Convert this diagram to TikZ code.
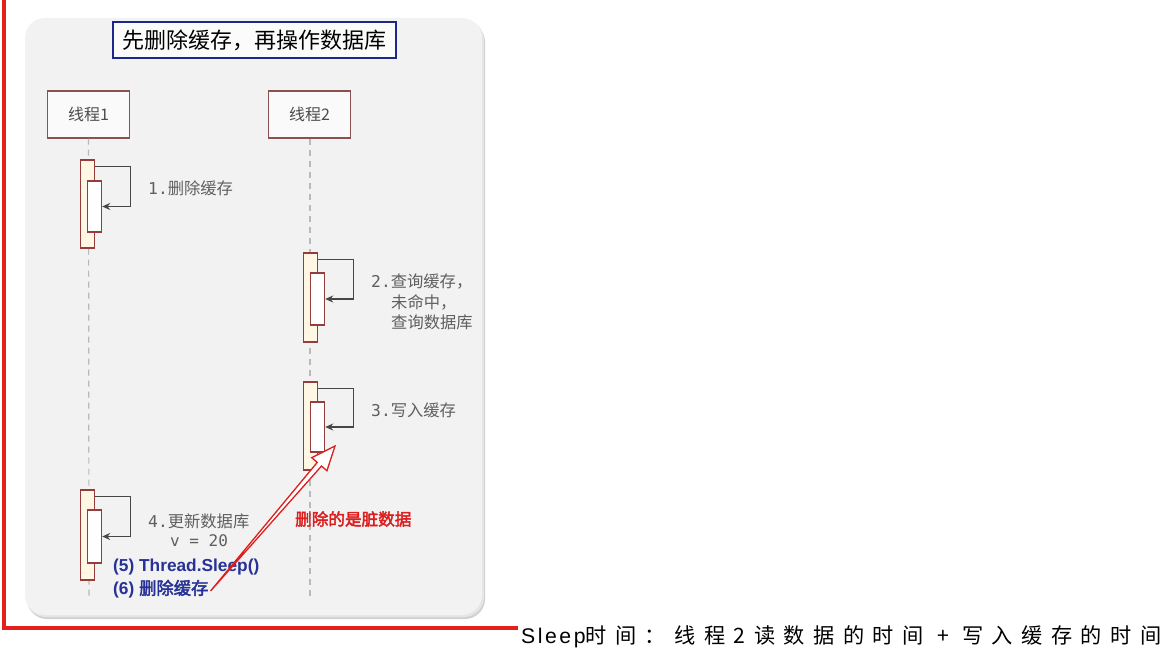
\documentclass[tikz,border=0pt]{standalone}
\usepackage{fontspec}
\setmainfont{Liberation Sans}
\newfontfamily\cjk{Noto Sans CJK SC}[AutoFakeBold=2.5]
\newfontfamily\cjkwide{Noto Sans CJK SC}[LetterSpace=40]
\newfontfamily\latinwide{Liberation Sans}[LetterSpace=12]
\newfontfamily\mono{DejaVu Sans Mono}
\usetikzlibrary{arrows.meta,calc}
\definecolor{framered}{RGB}{228,32,28}
\definecolor{panelbg}{RGB}{242,242,242}
\definecolor{titleblue}{RGB}{30,40,140}
\definecolor{boxbrown}{RGB}{140,80,80}
\definecolor{barred}{RGB}{150,60,60}
\definecolor{barfill}{RGB}{255,246,228}
\definecolor{loopgray}{RGB}{70,70,70}
\definecolor{labelgray}{RGB}{95,95,95}
\definecolor{textblue}{RGB}{40,50,150}
\definecolor{dirtyred}{RGB}{220,30,30}
\tikzset{
  x=1pt, y=-1pt,
  threadbox/.style={draw=boxbrown, line width=1.3pt, fill=white!96!gray, minimum width=82pt, minimum height=47pt, inner sep=0pt, font=\fontsize{16}{16}\selectfont\cjk, text=black!70},
  outerbar/.style={draw=barred, line width=1.4pt, fill=barfill, minimum width=14pt, inner sep=0pt},
  innerbar/.style={draw=barred, line width=1.4pt, fill=white, minimum width=14pt, inner sep=0pt},
  lifeline/.style={draw=gray!55, line width=1.2pt, dash pattern=on 6pt off 5pt},
  selfloop/.style={draw=loopgray, line width=1.4pt, -{Stealth[length=8pt,width=7pt]}},
  steplabel/.style={anchor=west, inner sep=0pt, text=labelgray, font=\fontsize{16.3}{16.3}\selectfont},
  bluetext/.style={anchor=west, inner sep=0pt, text=textblue, font=\fontsize{17.3}{17.3}\selectfont\bfseries},
}
\begin{document}
\begin{tikzpicture}
\useasboundingbox (0,0) rectangle (1173,661);
\fill[white] (0,0) rectangle (1173,661);
% panel with shadow
\fill[black!18, rounded corners=20pt] (27,22) rectangle (485,619);
\fill[black!10, rounded corners=20pt] (26,20) rectangle (484,617);
\fill[panelbg, rounded corners=20pt] (25,18) rectangle (482,615);
% red frame
\draw[framered, line width=4pt] (4,0) -- (4,628) -- (518,628);
% title
\node[draw=titleblue, line width=2pt, fill=white!97!gray, minimum width=283pt, minimum height=36pt, inner sep=0pt, font=\fontsize{22}{22}\selectfont\cjk] (title) at (254,40.5) {先删除缓存，再操作数据库};
% threads
\node[threadbox] (t1) at (88.5,114.5) {线程1};
\node[threadbox] (t2) at (309.5,114.5) {线程2};
\coordinate (e1) at (89,597);
\coordinate (e2) at (310,597);
\draw[lifeline] (t1.south) -- (e1);
\draw[lifeline] ($(t2.south)+(0.5,0)$) -- (e2);
% thread 1 step 1
\node[outerbar, minimum height=88pt] (b1o) at (87.5,204) {};
\node[innerbar, minimum height=51pt] (b1i) at (94.5,206.5) {};
\draw[selfloop] ($(b1o.north east)+(0,7)$) -- ++(35,0) |- (b1i.east);
\node[steplabel] (l1) at (148,188) {{\mono 1.}{\cjk 删除缓存}};
% thread 2 step 2
\node[outerbar, minimum height=89pt] (b2o) at (310.5,297.5) {};
\node[innerbar, minimum height=52pt] (b2i) at (317.5,299) {};
\draw[selfloop] ($(b2o.north east)+(0,7)$) -- ++(35,0) |- (b2i.east);
\node[steplabel] (l2a) at (371,282) {{\mono 2.}{\cjk 查询缓存，}};
\node[steplabel] (l2b) at (391,302) {\cjk 未命中，};
\node[steplabel] (l2c) at (391,322) {\cjk 查询数据库};
% thread 2 step 3
\node[outerbar, minimum height=88pt] (b3o) at (310.5,426) {};
\node[innerbar, minimum height=50pt] (b3i) at (317.5,427) {};
\draw[selfloop] ($(b3o.north east)+(0,7)$) -- ++(35,0) |- (b3i.east);
\node[steplabel] (l3) at (371,410) {{\mono 3.}{\cjk 写入缓存}};
% thread 1 step 4
\node[outerbar, minimum height=90pt] (b4o) at (87.5,535) {};
\node[innerbar, minimum height=53pt] (b4i) at (94.5,536.5) {};
\draw[selfloop] ($(b4o.north east)+(0,7)$) -- ++(35,0) |- (b4i.east);
\node[steplabel] (l4) at (148,521) {{\mono 4.}{\cjk 更新数据库}};
\node[steplabel, font=\fontsize{16}{16}\selectfont\mono] (l4v) at (170,541) {v = 20};
% blue texts
\node[bluetext] (s5) at (113,567) {(5) Thread.Sleep()};
\node[bluetext] (s6) at (113,589) {(6) {\cjk\bfseries 删除缓存}};
% dirty label
\node[anchor=west, inner sep=0pt, text=dirtyred, font=\fontsize{16.6}{16.6}\selectfont\cjk\bfseries] (dirty) at (295,519) {删除的是脏数据};
% red hollow arrow
\coordinate (as) at ($(s6.east)+(2,2)$);
\coordinate (at) at (335,446);
\coordinate (ab) at ($(at)!24pt!(as)$);
\draw[dirtyred, line width=1.3pt, fill=white, line join=miter]
  (as) -- ($(ab)!2.8pt!90:(at)$) -- ($(ab)!10pt!90:(at)$) -- (at)
  -- ($(ab)!10pt!-90:(at)$) -- ($(ab)!2.8pt!-90:(at)$) -- cycle;
% bottom text
\node[anchor=west, inner sep=0pt, text=black, font=\fontsize{21.2}{21.2}\selectfont] (sleep) at (521,637) {{\latinwide Sleep}{\cjkwide 时间：线程2读数据的时间 + 写入缓存的时间}};
\end{tikzpicture}
\end{document}
